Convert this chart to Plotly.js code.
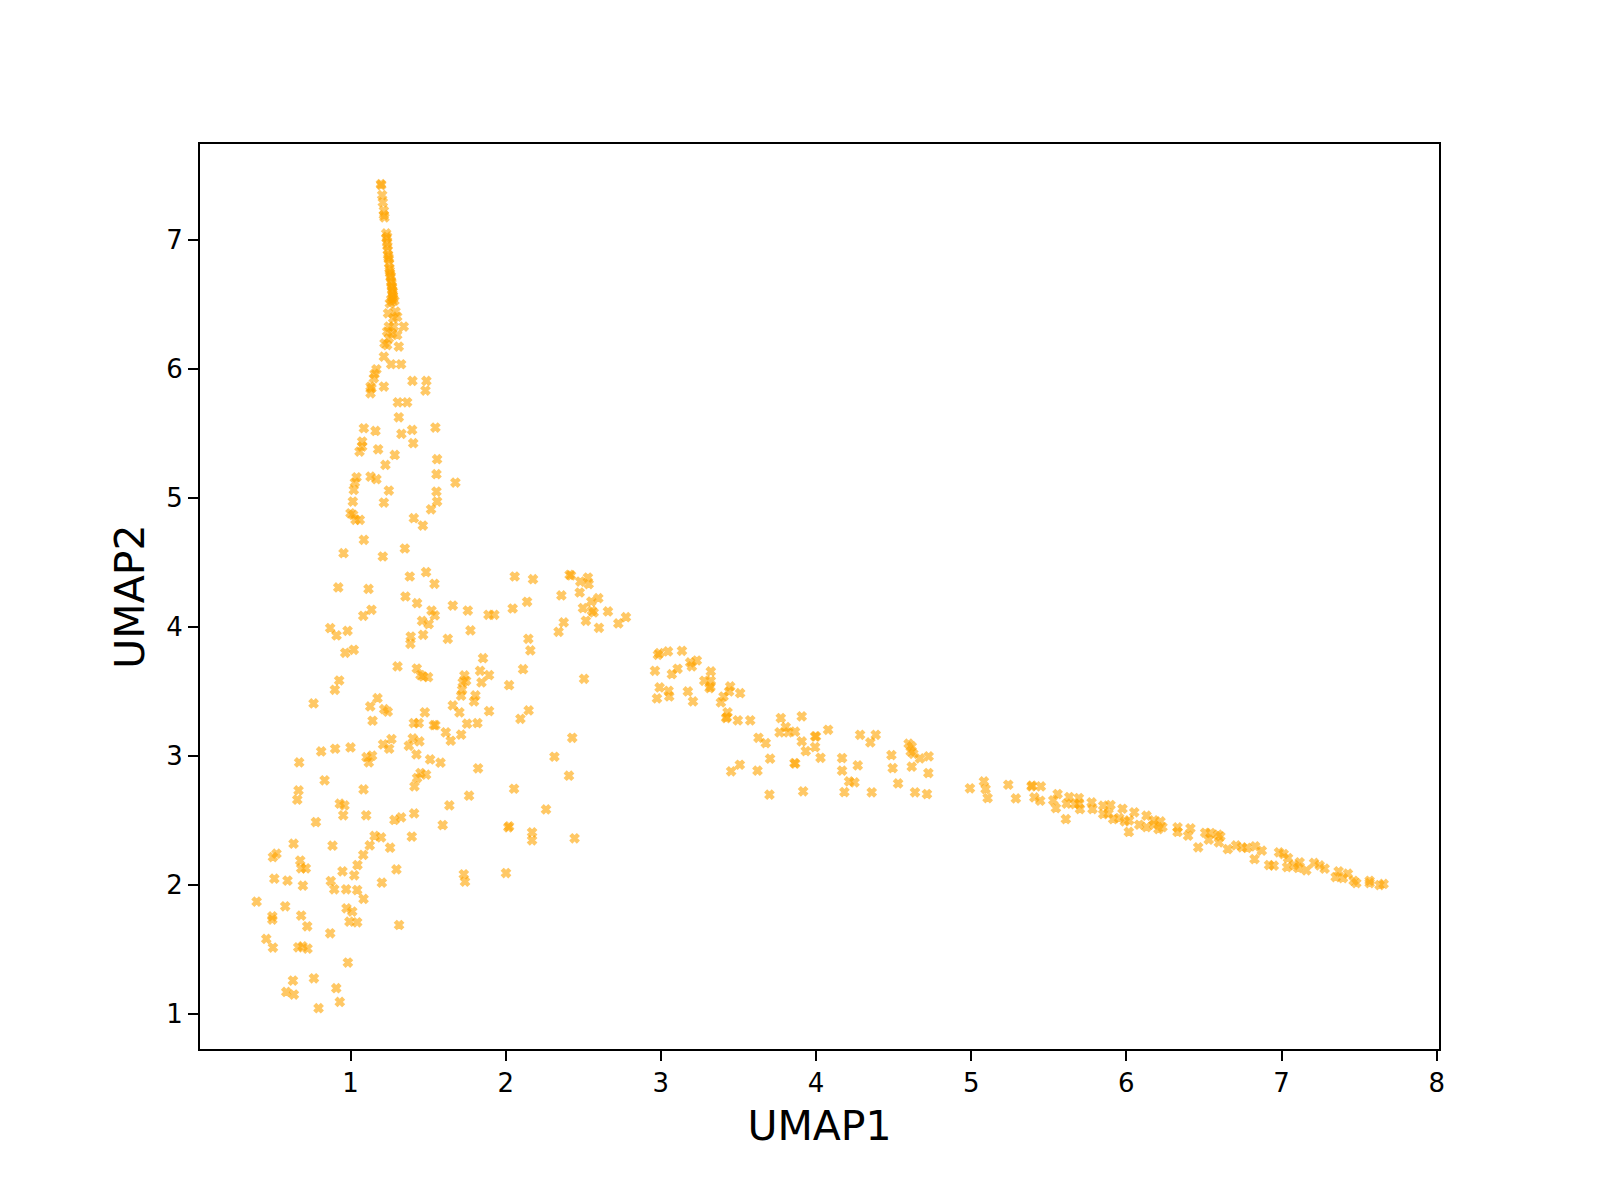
<!DOCTYPE html>
<html>
<head>
<meta charset="utf-8">
<script src="https://cdn.plot.ly/plotly-3.0.1.min.js"></script>
<style>
  body { margin: 0; background: #fff; }
  #plotArea { width: 1600px; height: 1200px; }
</style>
</head>
<body>
<div id="plotArea"></div>
<script>
// upper spike
var spireX = [1.198,1.196,1.204,1.208,1.215,1.215,1.219,1.230,1.232,1.236,1.240,1.242,1.247,1.251,1.255,1.258,1.262,1.266,1.268,1.270,
  1.275,1.268,1.253,1.283,1.236,1.238,1.245,1.249,1.253,1.260,1.264,1.268,1.273,1.273,1.262,
  1.242,1.290,1.301,1.275,1.247,1.279,1.343,1.236,1.268,1.301,1.247,1.219,1.236,1.311,1.215,1.262,1.326,1.167,1.155,1.150,
  1.129,1.135,1.129,1.215,1.399,1.489,1.483,1.305,1.365,1.311,1.086,1.161,1.397,1.547,1.328,1.075,1.075,1.404,1.178,1.058,
  1.285,1.558,1.225];
var spireY = [7.424,7.432,7.346,7.290,7.225,7.191,7.173,7.049,7.011,6.977,6.920,6.882,6.848,6.778,6.740,6.709,6.675,6.641,6.610,6.580,
  6.546,6.520,6.507,6.528,7.024,6.951,6.863,6.817,6.760,6.719,6.662,6.631,6.598,6.564,6.538,
  6.430,6.443,6.404,6.391,6.327,6.327,6.327,6.288,6.275,6.262,6.236,6.197,6.184,6.172,6.094,6.035,6.035,5.996,5.960,5.926,
  5.862,5.849,5.810,5.862,5.906,5.906,5.831,5.740,5.740,5.624,5.539,5.518,5.526,5.544,5.495,5.436,5.397,5.423,5.376,5.358,
  5.332,5.299,5.255];

// middle cloud
var midX = [1.039,1.028,1.021,1.129,1.167,1.554,1.676,1.247,1.554,1.015,
  1.215,1.558,1.000,1.017,1.032,1.060,1.519,1.408,1.466,1.086,
  1.350,0.955,1.208,1.382,1.487,1.541,0.921,1.116,1.354,1.429,
  1.522,1.543,1.659,1.756,1.135,1.082,1.461,1.504,0.869,0.910,
  0.981,1.388,1.386,1.468,1.627,1.773,1.889,1.927,2.045,2.138,
  2.058,2.176,2.412,2.421,2.481,2.530,2.535,2.359,2.477,2.597,
  2.552,2.498,2.556,2.659,2.567,2.374,2.341,2.517,2.601,2.726,
  2.775,2.146,2.159,0.966,1.021,1.303,1.427,1.451,1.500,1.468,
  1.734,1.723,1.745,1.719,1.713,1.854,1.835,1.893,1.844,2.022,
  2.112,2.505,0.927,0.899,0.762,1.174,1.127,1.217,1.240,1.142,
  1.479,1.659,1.702,1.805,1.796,1.893,2.148,2.095,1.408,1.440,
  1.537,1.547,1.751,1.818,1.614,1.713,1.646,1.264,1.210,1.249,
  1.401,1.444,1.376,1.425,1.513,1.580,1.822,2.429,2.314,1.000,
  0.901,0.811,0.669,1.103,1.139,1.118];
var midY = [5.159,5.118,5.061,5.164,5.144,5.183,5.118,5.056,5.048,4.971,
  4.963,4.971,4.880,4.868,4.829,4.829,4.911,4.842,4.785,4.674,
  4.607,4.571,4.545,4.390,4.424,4.333,4.305,4.294,4.235,4.183,
  4.126,4.088,4.165,4.126,4.132,4.085,4.046,4.021,3.990,3.933,
  3.969,3.925,3.868,3.938,3.907,3.972,4.093,4.093,4.142,4.194,
  4.390,4.369,4.403,4.398,4.351,4.382,4.331,4.243,4.266,4.222,
  4.196,4.145,4.124,4.119,4.111,4.034,3.961,4.047,3.992,4.026,
  4.075,3.907,3.817,3.799,3.822,3.693,3.677,3.626,3.610,3.615,
  3.623,3.569,3.582,3.512,3.466,3.757,3.659,3.626,3.569,3.548,
  3.672,3.597,3.584,3.512,3.406,3.447,3.383,3.362,3.342,3.272,
  3.337,3.391,3.337,3.468,3.422,3.347,3.352,3.287,3.254,3.254,
  3.238,3.238,3.249,3.254,3.182,3.164,3.117,3.130,3.089,3.055,
  3.135,3.112,3.078,3.011,2.972,2.947,2.903,3.140,2.993,3.065,
  3.055,3.034,2.949,2.990,3.001,2.949];

// lower left cloud
var lowX = [1.451,1.429,1.487,0.833,2.408,0.665,0.657,1.084,1.412,2.054,
  1.764,1.637,0.931,0.961,0.953,1.101,0.777,1.283,1.326,1.410,
  1.594,2.260,2.017,2.022,2.170,2.170,2.444,1.155,1.197,1.395,
  1.124,1.255,0.633,0.884,0.523,0.500,0.676,0.682,0.712,1.082,
  1.045,0.948,1.024,1.296,0.509,0.594,0.693,0.873,0.895,0.972,
  1.043,1.202,1.084,1.730,1.738,2.002,0.395,0.579,0.496,0.496,
  0.682,0.721,0.974,1.011,0.993,1.043,1.313,0.869,0.457,0.500,
  0.663,0.691,0.723,0.983,0.629,0.764,0.586,0.635,0.908,0.931,
  0.794];
var lowY = [2.867,2.828,2.854,2.810,2.846,2.732,2.660,2.740,2.763,2.745,
  2.691,2.616,2.629,2.616,2.539,2.539,2.487,2.503,2.523,2.554,
  2.464,2.585,2.446,2.454,2.407,2.345,2.361,2.379,2.368,2.374,
  2.306,2.288,2.319,2.304,2.242,2.216,2.188,2.128,2.128,2.232,
  2.154,2.105,2.074,2.120,2.048,2.033,1.994,2.030,1.966,1.966,
  1.960,2.017,1.891,2.082,2.025,2.092,1.870,1.834,1.756,1.731,
  1.762,1.679,1.818,1.793,1.715,1.710,1.689,1.625,1.581,1.514,
  1.516,1.524,1.506,1.398,1.258,1.276,1.170,1.150,1.199,1.093,
  1.044];

// arm from 3 to 5
var armX = [2.981,2.990,3.046,3.136,2.962,3.071,3.108,3.189,3.200,3.232,
  3.322,3.280,3.322,3.314,3.320,2.992,2.975,3.050,3.054,3.174,
  3.207,3.447,3.440,3.404,3.387,3.511,3.430,3.421,3.425,3.496,
  3.576,3.773,3.908,3.805,3.765,3.822,3.865,3.629,3.676,3.908,
  3.934,3.994,4.000,3.994,4.078,4.029,3.704,3.861,3.866,3.453,
  3.509,3.623,3.700,3.917,4.168,4.168,4.269,4.284,4.385,4.350,
  4.213,4.248,4.183,4.359,4.486,4.494,4.529,4.597,4.617,4.610,
  4.627,4.670,4.726,4.617,4.724,4.638,4.715,4.992,5.082,5.093,
  5.106,5.239,5.288];
var armY = [3.783,3.796,3.809,3.814,3.659,3.633,3.675,3.724,3.693,3.739,
  3.654,3.582,3.582,3.525,3.535,3.530,3.445,3.504,3.460,3.499,
  3.422,3.538,3.499,3.460,3.414,3.486,3.337,3.293,3.300,3.275,
  3.275,3.293,3.306,3.223,3.182,3.182,3.187,3.140,3.099,3.112,
  3.037,3.151,3.151,3.068,3.202,2.985,2.978,2.944,2.940,2.880,
  2.931,2.885,2.699,2.725,2.983,2.885,2.926,3.163,3.163,3.104,
  2.802,2.794,2.719,2.717,3.006,2.905,2.786,3.094,3.073,3.034,
  3.016,2.980,2.996,2.916,2.867,2.717,2.704,2.748,2.802,2.743,
  2.673,2.776,2.670];

// right tail
var tailX = [5.389,5.392,5.449,5.407,5.445,5.529,5.557,5.546,5.610,5.632,
  5.615,5.668,5.694,5.696,5.701,5.776,5.782,5.851,5.898,5.851,
  5.885,5.915,5.954,5.975,5.990,6.018,6.051,6.016,6.083,6.130,
  6.130,6.177,6.220,6.177,6.207,6.233,6.330,6.330,6.413,6.398,
  6.508,6.544,6.531,6.591,6.606,6.596,6.463,6.654,6.707,6.746,
  6.778,6.830,6.873,6.826,6.984,7.014,7.042,6.920,6.950,7.036,
  7.081,7.117,7.107,7.160,7.210,7.246,7.278,7.368,7.349,7.396,
  7.428,7.465,7.482,7.568,7.568,7.632,7.658];
var tailY = [2.763,2.770,2.763,2.678,2.652,2.655,2.704,2.595,2.510,2.681,
  2.629,2.626,2.673,2.629,2.588,2.639,2.588,2.614,2.619,2.549,
  2.554,2.510,2.518,2.590,2.492,2.500,2.562,2.410,2.466,2.536,
  2.448,2.500,2.492,2.466,2.433,2.448,2.446,2.410,2.438,2.381,
  2.404,2.402,2.350,2.389,2.376,2.329,2.291,2.278,2.306,2.291,
  2.286,2.299,2.265,2.200,2.252,2.239,2.208,2.154,2.149,2.138,
  2.154,2.175,2.131,2.113,2.170,2.151,2.126,2.105,2.061,2.053,
  2.087,2.032,2.014,2.032,2.014,1.999,2.007];

var umap1 = spireX.concat(midX, lowX, armX, tailX);
var umap2 = spireY.concat(midY, lowY, armY, tailY);

var trace = {
    x: umap1,
    y: umap2,
    mode: "markers",
    type: "scatter",
    marker: {symbol: "x", size: 8, color: "orange", opacity: 0.6, line: {width: 1.2, color: "orange"}},
    hoverinfo: "skip"
};

var axisStyle = {
    showgrid: false,
    zeroline: false,
    showline: true,
    mirror: true,
    linecolor: "black",
    linewidth: 2,
    ticks: "outside",
    ticklen: 10,
    tickwidth: 2,
    tickcolor: "black",
    tickfont: {family: "DejaVu Sans", size: 26, color: "black"}
};

var layout = {
    width: 1600,
    height: 1200,
    margin: {l: 200, r: 161, t: 144, b: 151},
    paper_bgcolor: "white",
    plot_bgcolor: "white",
    showlegend: false,
    font: {family: "DejaVu Sans", color: "black"},
    xaxis: Object.assign({}, axisStyle, {
        range: [0.03, 8.015],
        tickvals: [1, 2, 3, 4, 5, 6, 7, 8],
        title: {text: "UMAP1", font: {family: "DejaVu Sans", size: 41}, standoff: 14}
    }),
    yaxis: Object.assign({}, axisStyle, {
        range: [0.728, 7.742],
        tickvals: [1, 2, 3, 4, 5, 6, 7],
        title: {text: "UMAP2", font: {family: "DejaVu Sans", size: 41}, standoff: 9}
    })
};

Plotly.newPlot("plotArea", [trace], layout, {staticPlot: true});
</script>
</body>
</html>
